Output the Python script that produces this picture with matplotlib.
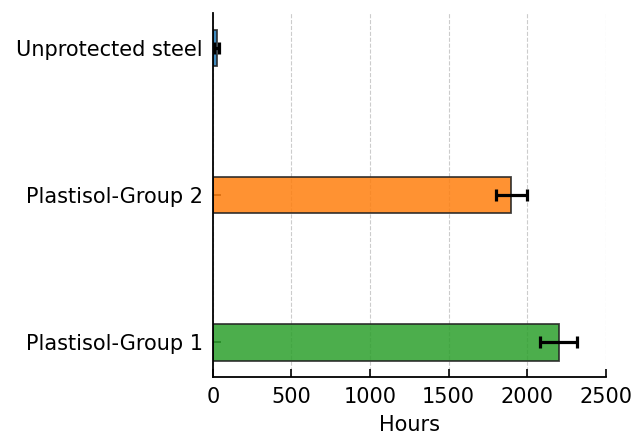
import matplotlib
matplotlib.use("Agg")
import matplotlib.pyplot as plt

categories = ["Plastisol-Group 1", "Plastisol-Group 2", "Unprotected steel"]
hours = [2200, 1900, 25]
errors = [120, 100, 15]
colors = ["tab:green", "tab:orange", "tab:blue"]

fig = plt.figure(figsize=(6.39, 4.48), dpi=100)
ax = fig.add_axes([0.333, 0.158, 0.615, 0.813])

ypos = list(range(len(categories)))
ax.barh(ypos, hours, height=0.25, color=colors, alpha=0.85,
        edgecolor="#222222", linewidth=1.3, zorder=2)
ax.errorbar(hours, ypos, xerr=errors, fmt="none", ecolor="black",
            elinewidth=2.3, capsize=4, capthick=2.3, zorder=3)

ax.set_yticks(ypos)
ax.set_yticklabels(categories, fontsize=15)
ax.set_xlim(0, 2500)
ax.set_xticks([0, 500, 1000, 1500, 2000, 2500])
ax.tick_params(axis="x", labelsize=15, direction="in", length=5.5, width=1.2, pad=7)
ax.tick_params(axis="y", direction="in", length=6, width=1.2, pad=7)
ax.set_xlabel("Hours", fontsize=15, labelpad=6)
ax.grid(axis="x", linestyle="--", color="#cccccc", linewidth=0.8, zorder=0)
ax.set_axisbelow(True)
for s in ["top", "right"]:
    ax.spines[s].set_visible(False)
for s in ["left", "bottom"]:
    ax.spines[s].set_linewidth(1.3)

fig.savefig("out.png", dpi=100)
